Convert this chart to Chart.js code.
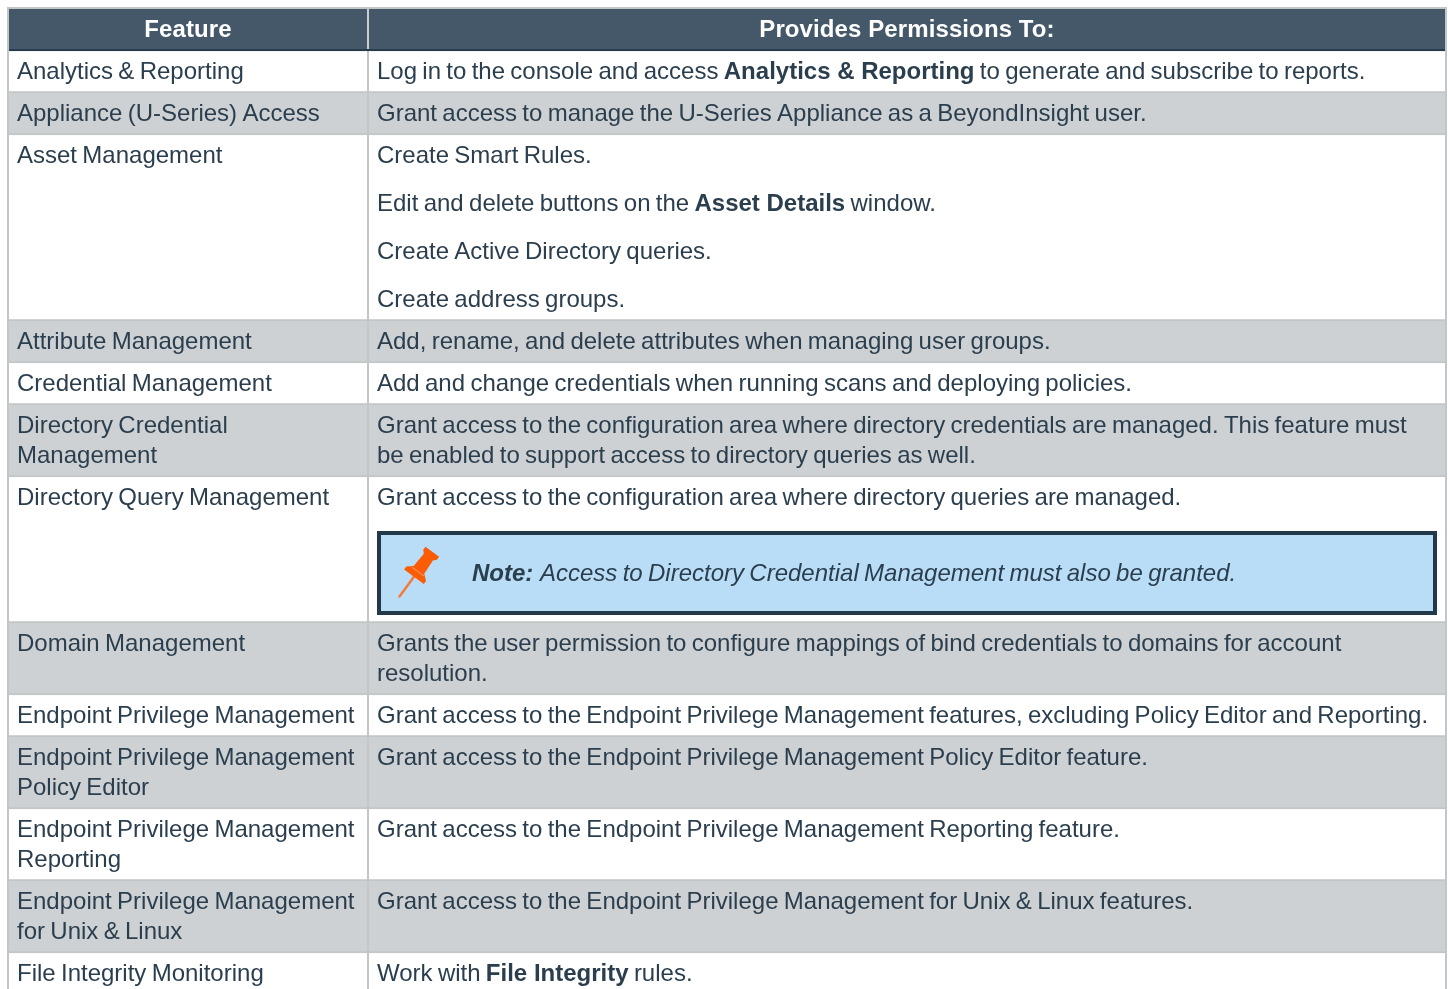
<!DOCTYPE html>
<html>
<head>
<meta charset="utf-8">
<title>Features and permissions</title>
<script src="https://cdn.jsdelivr.net/npm/chart.js@4"></script>
<style>
    html, body { margin: 0; background: #fff; overflow: hidden; }
    #frame {
        position: absolute; left: 7px; top: 7px;
        width: 1436px; height: 980px;
        border: 2px solid #c3c6c6; border-bottom: 0;
    }
    canvas { display: block; }
</style>
</head>
<body>
<div id="frame"><canvas id="table"></canvas></div>
<script>
const headers = ["Feature", "Provides Permissions To:"];
const headerHeight = 42;

const features = [
    ["Analytics & Reporting"],
    ["Appliance (U-Series) Access"],
    ["Asset Management"],
    ["Attribute Management"],
    ["Credential Management"],
    ["Directory Credential", "Management"],
    ["Directory Query Management"],
    ["Domain Management"],
    ["Endpoint Privilege Management"],
    ["Endpoint Privilege Management", "Policy Editor"],
    ["Endpoint Privilege Management", "Reporting"],
    ["Endpoint Privilege Management", "for Unix & Linux"],
    ["File Integrity Monitoring"]
];

const rowHeights = [42, 42, 186, 42, 42, 72, 146, 72, 42, 72, 72, 72, 42];

// each row: paragraphs, each paragraph: wrapped lines. ** marks bold
const permissions = [
    [["Log in to the console and access **Analytics & Reporting** to generate and subscribe to reports."]],
    [["Grant access to manage the U-Series Appliance as a BeyondInsight user."]],
    [["Create Smart Rules."], ["Edit and delete buttons on the **Asset Details** window."], ["Create Active Directory queries."], ["Create address groups."]],
    [["Add, rename, and delete attributes when managing user groups."]],
    [["Add and change credentials when running scans and deploying policies."]],
    [["Grant access to the configuration area where directory credentials are managed. This feature must", "be enabled to support access to directory queries as well."]],
    [["Grant access to the configuration area where directory queries are managed."]],
    [["Grants the user permission to configure mappings of bind credentials to domains for account", "resolution."]],
    [["Grant access to the Endpoint Privilege Management features, excluding Policy Editor and Reporting."]],
    [["Grant access to the Endpoint Privilege Management Policy Editor feature."]],
    [["Grant access to the Endpoint Privilege Management Reporting feature."]],
    [["Grant access to the Endpoint Privilege Management for Unix & Linux features."]],
    [["Work with **File Integrity** rules."]]
];

const noteRow = 6;
const noteLabel = "Note:";
const noteText = "Access to Directory Credential Management must also be granted.";

const headerColor = "#44586a";
const headerEdge = "#22394a";
const bandColor = "#cdd1d3";
const lineColor = "#c3c6c6";
const textColor = "#2b3e4e";
const fontFamily = '"Liberation Sans", Arial, sans-serif';

// the reference sets regular word gaps a bit tighter than the font's own, bold ones not
const regularGap = "-1.35px";

// Draws a line of text with **bold** parts
function drawRuns(ctx, line, x, y) {
    line.split("**").forEach((part, i) => {
        ctx.font = (i % 2 ? "bold " : "") + "24px " + fontFamily;
        ctx.wordSpacing = i % 2 ? "0px" : regularGap;
        ctx.fillText(part, x, y);
        x += ctx.measureText(part).width;
    });
}

function drawPin(ctx) {
    ctx.save();
    ctx.translate(390.5, 587.5);
    ctx.rotate(Math.atan2(33, 45));
    ctx.scale(0.94, 0.94);
    // needle
    ctx.strokeStyle = "#f5793a";
    ctx.lineWidth = 2.6;
    ctx.lineCap = "round";
    ctx.beginPath();
    ctx.moveTo(0, 0);
    ctx.lineTo(0, -26);
    ctx.stroke();
    // collar, body and head
    ctx.fillStyle = "#fb5c05";
    ctx.beginPath();
    ctx.moveTo(-13, -26);
    ctx.lineTo(13, -26);
    ctx.lineTo(13, -30);
    ctx.lineTo(7, -35);
    ctx.lineTo(6, -52);
    ctx.lineTo(9, -55);
    ctx.lineTo(9, -59);
    ctx.lineTo(-9, -59);
    ctx.lineTo(-9, -55);
    ctx.lineTo(-6, -52);
    ctx.lineTo(-7, -35);
    ctx.lineTo(-13, -30);
    ctx.closePath();
    ctx.fill();
    // light band under the body
    ctx.strokeStyle = "#f79a66";
    ctx.lineWidth = 1;
    ctx.lineCap = "butt";
    ctx.beginPath();
    ctx.moveTo(-8, -33);
    ctx.lineTo(8, -33);
    ctx.stroke();
    ctx.restore();
}

const tableText = {
    id: "tableText",
    afterDatasetsDraw(chart) {
        const ctx = chart.ctx;
        const y = chart.scales.y;
        const colX = 359;

        ctx.save();
        ctx.textBaseline = "alphabetic";

        // header
        const headerBottom = y.getPixelForValue(headerHeight);
        ctx.fillStyle = "#c9cdd0";
        ctx.fillRect(colX - 1, 0, 2, headerBottom - 2);
        ctx.fillStyle = "#fff";
        ctx.font = "bold 24px " + fontFamily;
        ctx.textAlign = "center";
        ctx.letterSpacing = "0.1px";
        ctx.fillText(headers[0], 179, 28);
        ctx.fillText(headers[1], 898, 28);
        ctx.letterSpacing = "0px";
        ctx.textAlign = "left";

        // column divider
        ctx.fillStyle = lineColor;
        ctx.fillRect(colX - 1, headerBottom, 2, chart.height - headerBottom);

        // rows
        let top = headerHeight;
        rowHeights.forEach((h, r) => {
            const rowTop = y.getPixelForValue(top);
            ctx.fillStyle = textColor;
            features[r].forEach((line, i) => drawRuns(ctx, line, 8, rowTop + 28 + i * 30));
            let base = rowTop + 28;
            permissions[r].forEach(par => {
                par.forEach((line, i) => drawRuns(ctx, line, 368, base + i * 30));
                base += (par.length - 1) * 30 + 48;
            });
            if (r === noteRow) {
                ctx.fillStyle = headerEdge;
                ctx.fillRect(368, rowTop + 54, 1060, 84);
                ctx.fillStyle = "#b9ddf7";
                ctx.fillRect(372, rowTop + 58, 1052, 76);
                drawPin(ctx);
                ctx.fillStyle = textColor;
                ctx.font = "italic bold 24px " + fontFamily;
                ctx.wordSpacing = "0px";
                ctx.fillText(noteLabel, 463, rowTop + 104);
                const w = ctx.measureText(noteLabel + " ").width;
                ctx.font = "italic 24px " + fontFamily;
                ctx.wordSpacing = regularGap;
                ctx.fillText(noteText, 463 + w, rowTop + 104);
            }
            top += h;
        });
        ctx.restore();
    }
};

const datasets = [{
    label: headers.join(" / "),
    data: [headerHeight],
    backgroundColor: headerColor,
    borderColor: headerEdge,
    borderWidth: { bottom: 2 },
    borderSkipped: false
}].concat(features.map((f, i) => ({
    label: f.join(" "),
    data: [rowHeights[i]],
    backgroundColor: i % 2 ? bandColor : "#fff",
    borderColor: lineColor,
    borderWidth: { bottom: 2 },
    borderSkipped: false
})));

new Chart(document.getElementById("table"), {
    type: "bar",
    data: { labels: ["rows"], datasets: datasets },
    options: {
        responsive: true,
        maintainAspectRatio: false,
        animation: false,
        barPercentage: 1,
        categoryPercentage: 1,
        plugins: { legend: { display: false }, tooltip: { enabled: false } },
        scales: {
            x: { stacked: true, display: false },
            y: { stacked: true, display: false, reverse: true, min: 0, max: 980 }
        }
    },
    plugins: [tableText]
});
</script>
</body>
</html>
